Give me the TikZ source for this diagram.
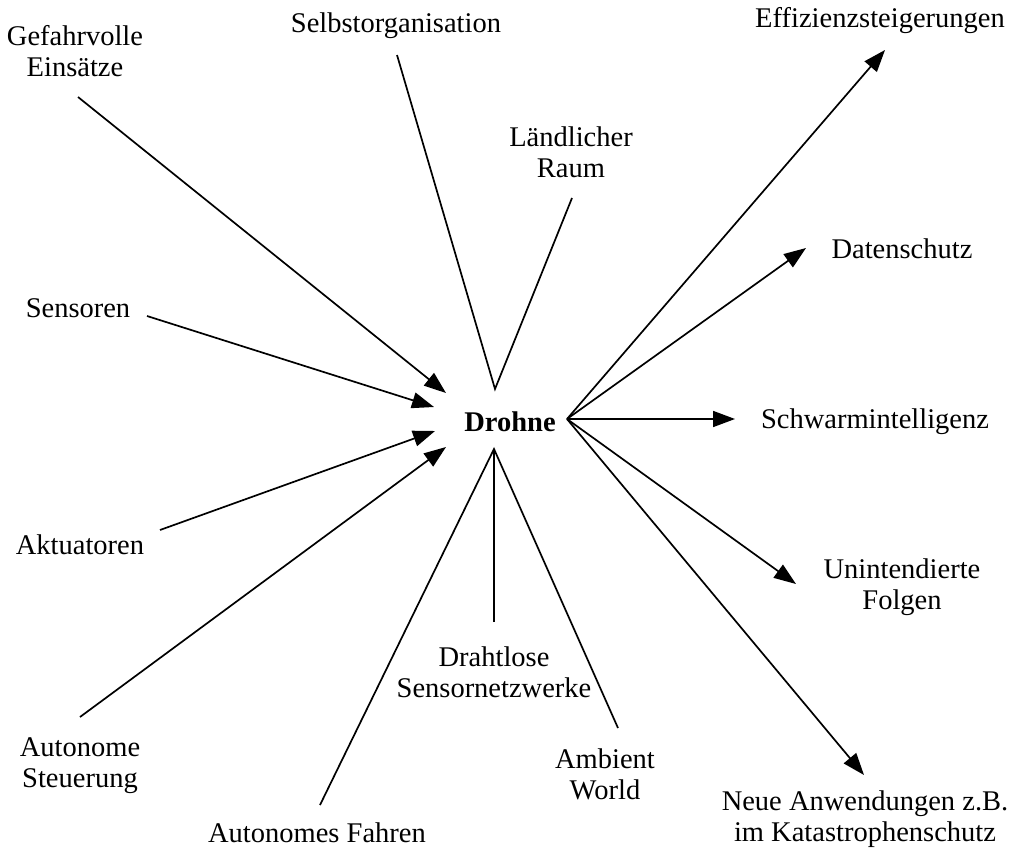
\documentclass[tikz,border=0pt]{standalone}
\usepackage{fontspec}
\setmainfont{Liberation Serif}
\usetikzlibrary{arrows.meta}
\begin{document}
\begin{tikzpicture}[x=1pt,y=-1pt,
  lbl/.style={font=\fontsize{28.5}{31}\selectfont, align=center, inner sep=0pt},
  conn/.style={line width=1.7pt},
  arr/.style={conn, -{Triangle[length=22pt,width=16pt]}}]
\useasboundingbox (0,0) rectangle (1017,856);
% labels
\node[lbl] (gef) at (75,51) {Gefahrvolle\\Einsätze};
\node[lbl] (selbst) at (396,26) {Selbstorganisation};
\node[lbl] (land) at (571,152) {Ländlicher\\Raum};
\node[lbl] (eff) at (880,21) {Effizienzsteigerungen};
\node[lbl] (daten) at (902,249) {Datenschutz};
\node[lbl] (sens) at (78,308) {Sensoren};
\node[lbl] (drohne) at (510,422) {\bfseries Drohne};
\node[lbl] (schwarm) at (875,422) {Schwarmintelligenz};
\node[lbl] (akt) at (80,545) {Aktuatoren};
\node[lbl] (unint) at (902,587) {Unintendierte\\Folgen};
\node[lbl] (draht) at (494,672) {Drahtlose\\Sensornetzwerke};
\node[lbl] (autst) at (80,766) {Autonome\\Steuerung};
\node[lbl] (amb) at (605,774) {Ambient\\World};
\node[lbl] (autf) at (317,833) {Autonomes Fahren};
\node[lbl] (neue) at (865,819) {Neue Anwendungen z.B.\\im Katastrophenschutz};
% connector end points
\coordinate (gefE) at (78,97);
\coordinate (gefT) at (446,393);
\coordinate (sensE) at (147,316);
\coordinate (sensT) at (434,407);
\coordinate (aktE) at (160,530);
\coordinate (aktT) at (435,431);
\coordinate (autstE) at (80,717);
\coordinate (autstT) at (446,447);
\coordinate (top) at (495,389);
\coordinate (selbstE) at (397,55);
\coordinate (landE) at (572,198);
\coordinate (bot) at (494,449);
\coordinate (drahtE) at (494,622);
\coordinate (autfE) at (320,805);
\coordinate (ambE) at (618,728);
\coordinate (right) at (567,419);
\coordinate (effT) at (885,50);
\coordinate (datenT) at (806,248);
\coordinate (schwarmT) at (735,419);
\coordinate (unintT) at (796,584);
\coordinate (neueT) at (864,775);
% connectors
\draw[arr] (gefE) -- (gefT);
\draw[arr] (sensE) -- (sensT);
\draw[arr] (aktE) -- (aktT);
\draw[arr] (autstE) -- (autstT);
\draw[conn] (selbstE) -- (top) -- (landE);
\draw[conn] (drahtE) -- (bot);
\draw[conn] (autfE) -- (bot) -- (ambE);
\draw[arr] (right) -- (effT);
\draw[arr] (right) -- (datenT);
\draw[arr] (right) -- (schwarmT);
\draw[arr] (right) -- (unintT);
\draw[arr] (right) -- (neueT);
\end{tikzpicture}
\end{document}
